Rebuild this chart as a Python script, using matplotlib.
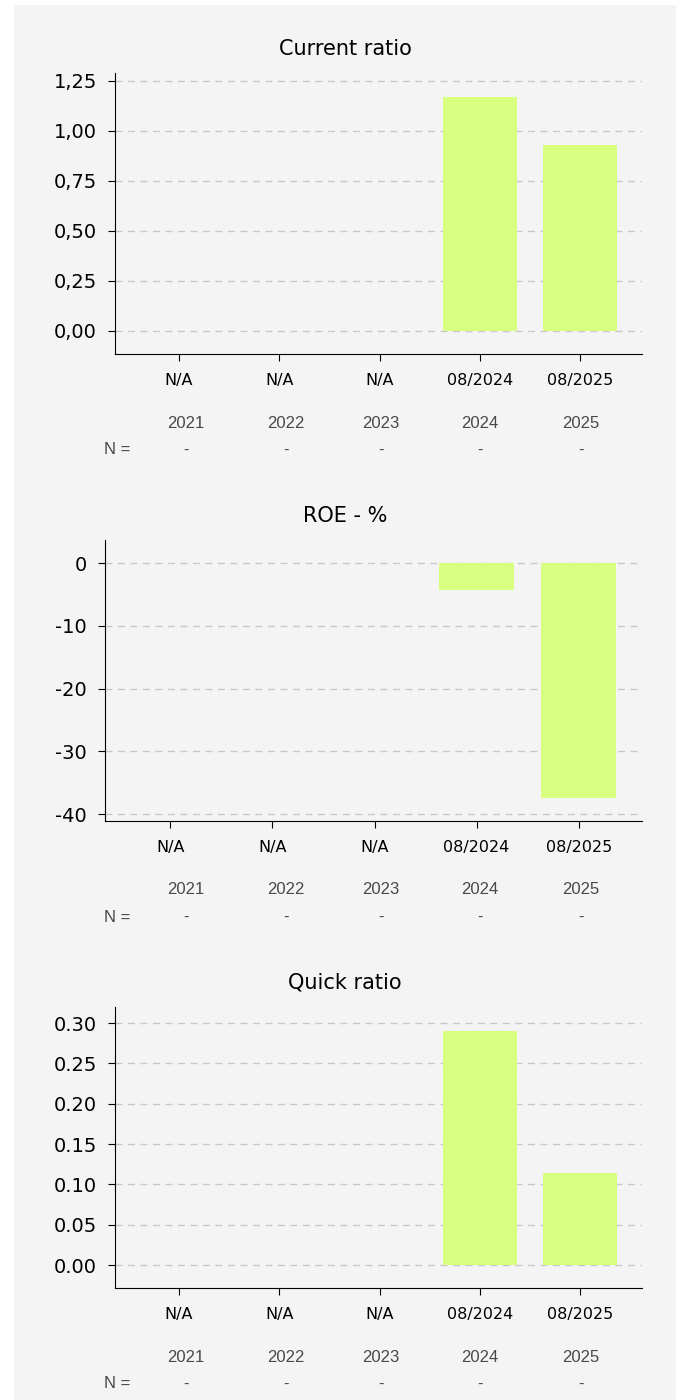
import numpy as np
import matplotlib
matplotlib.use('Agg')
import matplotlib.pyplot as plt
from matplotlib.patches import Rectangle
from matplotlib.ticker import FuncFormatter

periods = ['N/A', 'N/A', 'N/A', '08/2024', '08/2025']
years = ['2021', '2022', '2023', '2024', '2025']
n_counts = ['-', '-', '-', '-', '-']

current_ratio = [np.nan, np.nan, np.nan, 1.17, 0.93]
roe = [np.nan, np.nan, np.nan, -4.2, -37.4]
quick_ratio = [np.nan, np.nan, np.nan, 0.29, 0.114]

titles = ['Current ratio', 'ROE - %', 'Quick ratio']

bar_color = '#d8ff80'
bg = '#f4f4f4'

fig = plt.figure(figsize=(6.8, 14), dpi=100)
fig.patch.set_facecolor('white')
fig.patches.append(Rectangle((14 / 680, 0), 662 / 680, 1395 / 1400,
                             transform=fig.transFigure, facecolor=bg,
                             edgecolor='none', zorder=-10))

H = 1400.0
W = 680.0
# (left, top, bottom) in pixels for each panel
boxes = [(115, 73, 354), (105, 540, 821), (115, 1007, 1288)]
ylims = [(-0.115, 1.29), (-41.1, 3.7), (-0.0285, 0.32)]
yticks = [np.arange(0, 1.26, 0.25), np.arange(-40, 1, 10), np.arange(0, 0.31, 0.05)]
fmts = [lambda v, p: f'{v:.2f}'.replace('.', ','),
        lambda v, p: f'{v:.0f}',
        lambda v, p: f'{v:.2f}']
values = [current_ratio, roe, quick_ratio]

year_x = [186, 286, 381, 480, 581]

for i in range(3):
    left, top, bottom = boxes[i]
    ax = fig.add_axes([left / W, 1 - bottom / H, (642 - left) / W, (bottom - top) / H])
    ax.set_facecolor(bg)
    x = np.arange(len(periods))
    ax.bar(x, values[i], width=0.74, color=bar_color, zorder=3)
    ax.set_xlim(-0.64, 4.62)
    ax.set_ylim(*ylims[i])
    ax.set_yticks(yticks[i])
    ax.yaxis.set_major_formatter(FuncFormatter(fmts[i]))
    ax.set_xticks(x)
    ax.set_xticklabels(periods)
    ax.tick_params(axis='y', labelsize=14, length=5, pad=8)
    ax.tick_params(axis='x', labelsize=11.5, length=5, pad=9)
    ax.spines['top'].set_visible(False)
    ax.spines['right'].set_visible(False)
    ax.grid(axis='y', color='#c8c8c8', linestyle=(0, (5, 4)), linewidth=1, zorder=1)
    # titles are centred on the panel, not on the axes
    ax.set_title(titles[i], fontsize=15, pad=13, x=(345 - left) / (642 - left))

    yr_y = bottom + 69
    n_y = bottom + 96
    for xp, yr, n in zip(year_x, years, n_counts):
        fig.text(xp / W, 1 - yr_y / H, yr, ha='center', va='center',
                 fontsize=12, family='Liberation Sans', color='#484848')
        fig.text(xp / W, 1 - n_y / H, n, ha='center', va='center',
                 fontsize=12, family='Liberation Sans', color='#484848')
    fig.text(117 / W, 1 - n_y / H, 'N =', ha='center', va='center',
             fontsize=12, family='Liberation Sans', color='#484848')

fig.savefig('out.png', dpi=100, facecolor=fig.get_facecolor())
